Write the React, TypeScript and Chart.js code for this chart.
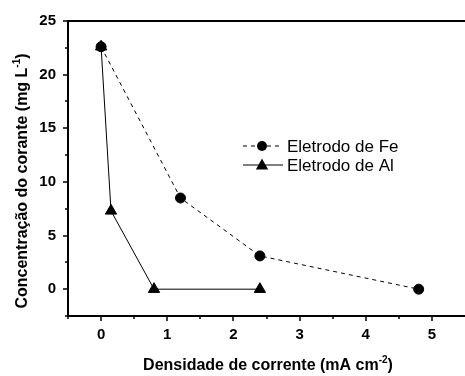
import React, { useEffect, useRef } from "react";
import { Chart, registerables } from "chart.js";

Chart.register(...registerables);

// Data
const feCurrent = [0, 1.2, 2.4, 4.8];
const feConc = [22.6, 8.5, 3.1, 0];
const alCurrent = [0, 0.15, 0.8, 2.4];
const alConc = [22.6, 7.3, 0, 0];
const seriesNames = ["Eletrodo de Fe", "Eletrodo de Al"];
const xTicks = [0, 1, 2, 3, 4, 5];
const yTicks = [0, 5, 10, 15, 20, 25];
const xMinorTicks = [-0.5, 0.5, 1.5, 2.5, 3.5, 4.5];
const yMinorTicks = [-2.5, 2.5, 7.5, 12.5, 17.5, 22.5];
const xTitleParts = ["Densidade de corrente (mA cm", "-2", ")"];
const yTitleParts = ["Concentração do corante (mg L", "-1", ")"];

const FONT = "'Liberation Sans', Arial, sans-serif";

function richWidth(ctx: CanvasRenderingContext2D, parts: string[], size: number, supSize: number) {
  let w = 0;
  parts.forEach((p, i) => {
    ctx.font = `bold ${i % 2 === 1 ? supSize : size}px ${FONT}`;
    w += ctx.measureText(p).width;
  });
  return w;
}

function drawRich(ctx: CanvasRenderingContext2D, parts: string[], cx: number, cy: number, rot: number) {
  const size = 16;
  const supSize = 10;
  ctx.save();
  ctx.translate(cx, cy);
  ctx.rotate(rot);
  ctx.fillStyle = "#000";
  ctx.textBaseline = "middle";
  ctx.textAlign = "left";
  const w = richWidth(ctx, parts, size, supSize);
  let x = -w / 2;
  parts.forEach((p, i) => {
    const sup = i % 2 === 1;
    ctx.font = `bold ${sup ? supSize : size}px ${FONT}`;
    ctx.fillText(p, x, sup ? -6 : 0);
    x += ctx.measureText(p).width;
  });
  ctx.restore();
}

const framePlugin = {
  id: "frame",
  afterDraw(chart: any) {
    const ctx: CanvasRenderingContext2D = chart.ctx;
    const { left, right, top, bottom } = chart.chartArea;
    const xs = chart.scales.x;
    const ys = chart.scales.y;
    ctx.save();
    ctx.strokeStyle = "#000";
    ctx.lineWidth = 2;
    ctx.beginPath();
    ctx.moveTo(right, top);
    ctx.lineTo(left, top);
    ctx.lineTo(left, bottom);
    ctx.lineTo(right, bottom);
    ctx.stroke();
    ctx.lineWidth = 1.5;
    ctx.beginPath();
    xTicks.forEach((v) => {
      const px = Math.round(xs.getPixelForValue(v));
      ctx.moveTo(px, bottom);
      ctx.lineTo(px, bottom + 5);
    });
    xMinorTicks.forEach((v) => {
      const px = Math.round(xs.getPixelForValue(v));
      ctx.moveTo(px, bottom);
      ctx.lineTo(px, bottom + 3);
    });
    yTicks.forEach((v) => {
      const py = Math.round(ys.getPixelForValue(v));
      ctx.moveTo(left, py);
      ctx.lineTo(left - 5, py);
    });
    yMinorTicks.forEach((v) => {
      const py = Math.round(ys.getPixelForValue(v));
      ctx.moveTo(left, py);
      ctx.lineTo(left - 3, py);
    });
    ctx.stroke();

    // axis titles
    drawRich(ctx, xTitleParts, 268, 366, 0);
    drawRich(ctx, yTitleParts, 23, 181, -Math.PI / 2);

    // legend
    const rows = [
      { y: 146, ds: chart.data.datasets[0] },
      { y: 165, ds: chart.data.datasets[1] },
    ];
    rows.forEach((r) => {
      const ds = r.ds;
      ctx.strokeStyle = "#000";
      ctx.lineWidth = 1;
      ctx.setLineDash(ds.borderDash || []);
      ctx.beginPath();
      ctx.moveTo(243, r.y);
      ctx.lineTo(283, r.y);
      ctx.stroke();
      ctx.setLineDash([]);
      ctx.fillStyle = "#000";
      ctx.beginPath();
      if (ds.pointStyle === "circle") {
        ctx.arc(262, r.y, 5, 0, Math.PI * 2);
      } else {
        const rr = 6.5;
        ctx.moveTo(262, r.y - rr);
        ctx.lineTo(262 + rr * 0.95, r.y + rr * 0.7);
        ctx.lineTo(262 - rr * 0.95, r.y + rr * 0.7);
        ctx.closePath();
      }
      ctx.fill();
      ctx.font = `17px ${FONT}`;
      ctx.textBaseline = "middle";
      ctx.textAlign = "left";
      ctx.fillText(ds.label, 287, r.y + 1);
    });
    ctx.restore();
  },
};

export default function App() {
  const ref = useRef<HTMLCanvasElement | null>(null);
  useEffect(() => {
    if (!ref.current) return;
    const chart = new Chart(ref.current, {
      type: "scatter",
      data: {
        datasets: [
          {
            label: seriesNames[0],
            data: feCurrent.map((x, i) => ({ x, y: feConc[i] })),
            showLine: true,
            borderColor: "#000",
            backgroundColor: "#000",
            borderWidth: 1,
            borderDash: [4, 4],
            pointStyle: "circle",
            pointRadius: 5,
            pointHoverRadius: 5,
          },
          {
            label: seriesNames[1],
            data: alCurrent.map((x, i) => ({ x, y: alConc[i] })),
            showLine: true,
            borderColor: "#000",
            backgroundColor: "#000",
            borderWidth: 1,
            pointStyle: "triangle",
            pointRadius: 6.5,
            pointHoverRadius: 6.5,
          },
        ],
      },
      options: {
        animation: false,
        responsive: false,
        maintainAspectRatio: false,
        events: [],
        layout: { padding: { top: 21, left: 0, right: 0, bottom: 0 }, autoPadding: false },
        plugins: { legend: { display: false }, tooltip: { enabled: false } },
        scales: {
          x: {
            type: "linear",
            min: -0.5,
            max: 5.5,
            grid: { display: false, drawTicks: false },
            border: { display: false },
            afterBuildTicks: (s: any) => {
              s.ticks = xTicks.map((v) => ({ value: v }));
            },
            afterFit: (s: any) => {
              s.height = 60;
            },
            ticks: {
              padding: 10,
              color: "#000",
              font: { family: FONT, size: 15, weight: "bold" },
              maxRotation: 0,
            },
          },
          y: {
            type: "linear",
            min: -2.5,
            max: 25,
            grid: { display: false, drawTicks: false },
            border: { display: false },
            afterBuildTicks: (s: any) => {
              s.ticks = yTicks.map((v) => ({ value: v }));
            },
            afterFit: (s: any) => {
              s.width = 68;
            },
            ticks: {
              padding: 12,
              color: "#000",
              font: { family: FONT, size: 15, weight: "bold" },
            },
          },
        },
      },
      plugins: [framePlugin],
    } as any);
    return () => chart.destroy();
  }, []);
  return (
    <div style={{ position: "absolute", left: 0, top: 0, width: 465, height: 376, background: "#fff" }}>
      <canvas ref={ref} width={465} height={376} style={{ display: "block" }} />
    </div>
  );
}
